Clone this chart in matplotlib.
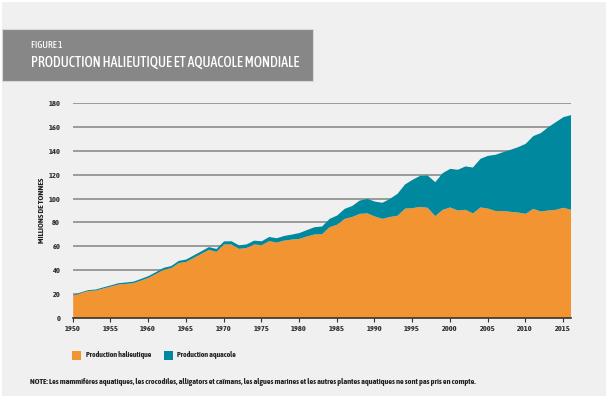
import matplotlib
matplotlib.use("Agg")
import matplotlib.pyplot as plt
from matplotlib.patches import Rectangle
from matplotlib import font_manager as fm
import numpy as np

years = list(range(1950, 2017))
capture = [18.8, 21.0, 22.8, 23.2, 24.9, 26.6, 28.3, 28.8, 29.4, 31.6,
           33.9, 37.2, 40.6, 42.0, 46.2, 47.3, 50.7, 54.0, 57.4, 55.7,
           61.9, 61.9, 58.2, 59.0, 61.9, 61.3, 64.7, 63.5, 65.2, 66.0,
           66.6, 68.6, 70.3, 70.5, 76.4, 78.5, 83.4, 85.0, 87.6, 88.0,
           85.4, 83.4, 85.0, 86.0, 92.0, 92.4, 93.5, 92.7, 85.7, 91.0,
           93.0, 90.4, 91.0, 88.0, 93.0, 92.0, 90.0, 90.0, 89.3, 88.7,
           87.6, 91.8, 89.6, 90.4, 91.0, 92.7, 91.0]
aquaculture = [0.6, 0.7, 0.8, 0.9, 1.0, 1.0, 1.1, 1.2, 1.3, 1.4,
               1.5, 1.6, 1.7, 1.8, 1.9, 2.0, 2.1, 2.2, 2.3, 2.4,
               2.6, 2.7, 2.9, 3.0, 3.2, 3.3, 3.5, 3.6, 3.9, 4.2,
               4.9, 5.4, 6.1, 6.5, 7.0, 7.7, 8.4, 9.2, 11.2, 12.2,
               12.5, 13.5, 15.2, 18.4, 20.3, 23.8, 26.0, 27.1, 28.5, 30.8,
               32.4, 34.2, 36.4, 38.5, 40.8, 44.3, 47.2, 49.4, 52.1, 54.9,
               58.8, 61.1, 65.8, 70.0, 73.6, 76.1, 79.5]
series_labels = ["Production halieutique", "Production aquacole"]
y_ticks = [0, 20, 40, 60, 80, 100, 120, 140, 160, 180]
x_ticks = [1950, 1955, 1960, 1965, 1970, 1975, 1980, 1985, 1990, 1995, 2000, 2005, 2010, 2015]

ORANGE = "#f39433"
TEAL = "#00889f"
BG = "#f0f0f0"

installed = {f.name for f in fm.fontManager.ttflist}
pref = ["Asap Condensed", "Archivo Narrow", "Liberation Sans Narrow", "DejaVu Sans"]
FONT = [f for f in pref if f in installed] or ["DejaVu Sans"]
if "DejaVu Sans" not in FONT:
    FONT.append("DejaVu Sans")
plt.rcParams['font.family'] = FONT

W, H = 609, 398
fig = plt.figure(figsize=(W / 100, H / 100), dpi=100)
fig.patch.set_facecolor("white")

def fx(px):
    return px / W

def fy(py):
    return 1 - py / H

# background panel
fig.patches.append(Rectangle((fx(2), fy(396)), fx(604), 394 / H, transform=fig.transFigure,
                             facecolor=BG, edgecolor="none", zorder=-10))
# title box
fig.patches.append(Rectangle((fx(2), fy(81)), fx(311), 52 / H, transform=fig.transFigure,
                             facecolor="#878787", edgecolor="#d8d8d8", linewidth=0.8, zorder=-5))
fig.text(fx(31), fy(45.5), "FIGURE 1", color="white", fontsize=6.8, fontweight=500,
         va="center", ha="left")
fig.text(fx(31), fy(62.5), "PRODUCTION HALIEUTIQUE ET AQUACOLE MONDIALE", color="white",
         fontsize=10.0, fontweight=500, va="center", ha="left")

ax = fig.add_axes([fx(72.7), fy(317.7), fx(570.5 - 72.7), (317.7 - 103.3) / H])
ax.patch.set_alpha(0)

cap = np.array(capture)
aq = np.array(aquaculture)
ax.fill_between(years, 0, cap, color=ORANGE, linewidth=0, zorder=2, label=series_labels[0])
ax.fill_between(years, cap, cap + aq, color=TEAL, linewidth=0, zorder=2, label=series_labels[1])

ax.set_xlim(1950, 2016)
ax.set_ylim(0, 180)
ax.set_yticks(y_ticks)
ax.set_xticks(x_ticks)
ax.set_yticklabels([str(v) for v in y_ticks], fontsize=6, fontweight="bold", color="#333333")
ax.set_xticklabels([str(v) for v in x_ticks], fontsize=6, fontweight="bold", color="#333333")
ax.tick_params(axis="y", length=0, pad=9)
ax.tick_params(axis="x", length=3, width=0.8, color="#333333", pad=2)
for gy in y_ticks[1:]:
    ax.axhline(gy, color="#9a9a9a", linewidth=1.4, zorder=1)
for s in ["top", "right", "left"]:
    ax.spines[s].set_visible(False)
ax.spines["bottom"].set_color("#333333")
ax.spines["bottom"].set_linewidth(1.2)
ax.spines["bottom"].set_zorder(3)

fig.text(fx(42), fy(210), "MILLIONS DE TONNES", rotation=90, fontsize=6, fontweight="bold",
         color="#222222", va="center", ha="center")

# legend
fig.patches.append(Rectangle((fx(72), fy(359.5)), fx(9), 9 / H, transform=fig.transFigure,
                             facecolor=ORANGE, edgecolor="none", zorder=2))
fig.text(fx(86.5), fy(355), series_labels[0], fontsize=5.6, fontweight="bold", color="#222222",
         va="center", ha="left")
fig.patches.append(Rectangle((fx(164), fy(359.5)), fx(9), 9 / H, transform=fig.transFigure,
                             facecolor=TEAL, edgecolor="none", zorder=2))
fig.text(fx(177), fy(355), series_labels[1], fontsize=5.6, fontweight="bold", color="#222222",
         va="center", ha="left")

fig.text(fx(30), fy(381.5),
         "NOTE: Les mammifères aquatiques, les crocodiles, alligators et caïmans, les algues marines et les autres plantes aquatiques ne sont pas pris en compte.",
         fontsize=5.85, fontweight="bold", color="#222222", va="center", ha="left")

fig.savefig("out.png", dpi=100, facecolor=fig.get_facecolor())
